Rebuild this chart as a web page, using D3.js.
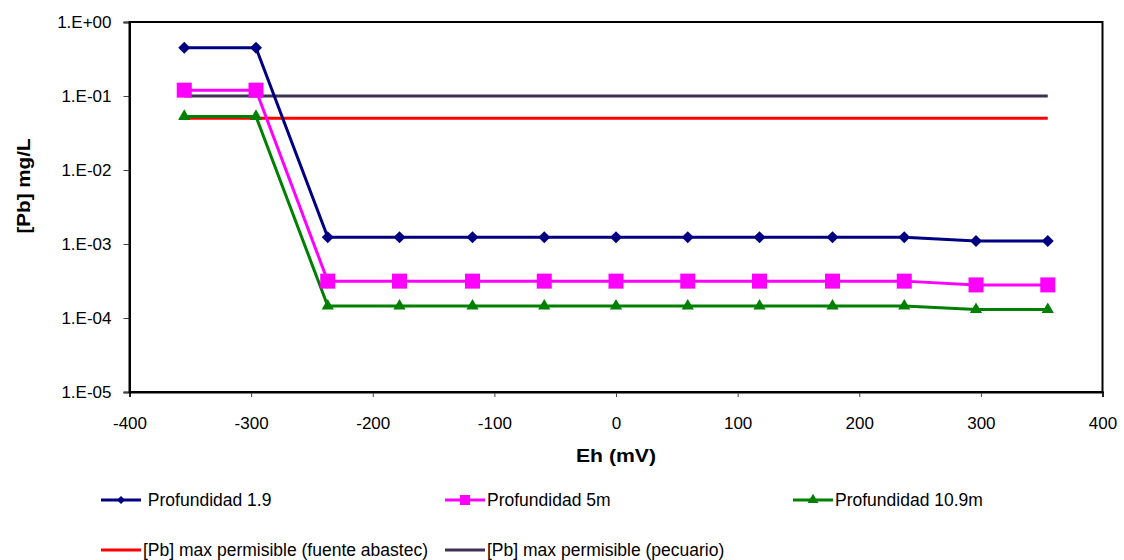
<!DOCTYPE html>
<html>
<head>
<meta charset="utf-8">
<script src="https://cdn.jsdelivr.net/npm/d3@7"></script>
<style>
  body { margin: 0; background: #fff; }
  text { font-family: "Liberation Sans", Arial, sans-serif; }
</style>
</head>
<body>
<div id="graf"></div>
<script>
// Datos
eh = [-355, -296, -237, -178, -118, -59, 0, 59, 118, 178, 237, 296, 355]
prof19  = [0.45, 0.45, 0.00123, 0.00123, 0.00123, 0.00123, 0.00123, 0.00123, 0.00123, 0.00123, 0.00123, 0.0011, 0.0011]
prof5   = [0.12, 0.12, 0.000315, 0.000315, 0.000315, 0.000315, 0.000315, 0.000315, 0.000315, 0.000315, 0.000315, 0.00028, 0.00028]
prof109 = [0.053, 0.053, 0.000145, 0.000145, 0.000145, 0.000145, 0.000145, 0.000145, 0.000145, 0.000145, 0.000145, 0.00013, 0.00013]
maxAbastec = [0.05, 0.05]
maxPecuario = [0.1, 0.1]
limiteEh = [-355, 355]

xTicks = [-400, -300, -200, -100, 0, 100, 200, 300, 400]
yTicks = [1, 1e-1, 1e-2, 1e-3, 1e-4, 1e-5]
yTickLabels = ['1.E+00', '1.E-01', '1.E-02', '1.E-03', '1.E-04', '1.E-05']

series = [
  { nombre: ' Profundidad 1.9', x: eh, v: prof19, color: '#000080', marca: 'diamante' },
  { nombre: 'Profundidad 5m', x: eh, v: prof5, color: '#FF00FF', marca: 'cuadro' },
  { nombre: 'Profundidad 10.9m', x: eh, v: prof109, color: '#008000', marca: 'triangulo' },
  { nombre: '[Pb] max permisible (fuente abastec)', x: limiteEh, v: maxAbastec, color: '#FF0000', marca: null },
  { nombre: '[Pb] max permisible (pecuario)', x: limiteEh, v: maxPecuario, color: '#3F3151', marca: null }
]

ancho_total = 1124
alto_total = 560
margins = { top: 22, left: 129.5, right: 21.5, bottom: 168 }
ancho = ancho_total - margins.left - margins.right
alto = alto_total - margins.top - margins.bottom

svg = d3.select('#graf').append('svg')
  .attr('width', ancho_total)
  .attr('height', alto_total)

g = svg.append('g').attr('transform', `translate(${margins.left}, ${margins.top})`)

x = d3.scaleLinear().domain([-400, 400]).range([0, ancho])
y = d3.scaleLog().domain([1e-5, 1]).range([alto, 0])

// Ejes
xAxis = g.append('g')
  .attr('transform', `translate(0, ${alto})`)
  .call(d3.axisBottom(x).tickValues(xTicks).tickSize(5).tickPadding(20).tickFormat(d => String(d)))
xAxis.select('.domain').attr('stroke-width', 2)
xAxis.selectAll('.tick line').attr('stroke', '#444')
xAxis.selectAll('text').attr('font-size', '17px').attr('fill', '#000')
  .attr('font-family', '"Liberation Sans", Arial, sans-serif')

yAxis = g.append('g')
  .call(d3.axisLeft(y).tickValues(yTicks).tickSize(6).tickPadding(12).tickFormat((d, i) => yTickLabels[i]))
yAxis.select('.domain').attr('stroke-width', 2)
yAxis.selectAll('.tick line').attr('stroke', '#444')
yAxis.selectAll('text').attr('font-size', '17px').attr('fill', '#000')
  .attr('font-family', '"Liberation Sans", Arial, sans-serif')

// Marco del área de trazado
g.append('rect')
  .attr('x', 0).attr('y', 0)
  .attr('width', ancho).attr('height', alto)
  .attr('fill', 'none').attr('stroke', '#000').attr('stroke-width', 2)

// Líneas
linea = d3.line().x(d => x(d[0])).y(d => y(d[1]))

// marcas del gráfico y de la leyenda (rombo = cuadro girado 45°)
simbolo = {
  diamante: d3.symbol().type(d3.symbolSquare).size(72),
  cuadro: d3.symbol().type(d3.symbolSquare).size(225),
  triangulo: d3.symbol().type(d3.symbolTriangle).size(65)
}
simboloLeyenda = {
  diamante: d3.symbol().type(d3.symbolSquare).size(32),
  cuadro: d3.symbol().type(d3.symbolSquare).size(100),
  triangulo: d3.symbol().type(d3.symbolTriangle).size(50)
}
giro = m => m === 'diamante' ? ' rotate(45)' : ''

series.slice().reverse().forEach(s => {
  puntos = s.x.map((xv, i) => [xv, s.v[i]])
  g.append('path')
    .datum(puntos)
    .attr('d', linea)
    .attr('fill', 'none')
    .attr('stroke', s.color)
    .attr('stroke-width', 3)
})

series.forEach(s => {
  if (!s.marca) return
  puntos = s.x.map((xv, i) => [xv, s.v[i]])
  g.selectAll(null)
    .data(puntos)
    .enter()
    .append('path')
    .attr('d', simbolo[s.marca])
    .attr('transform', d => `translate(${x(d[0])}, ${y(d[1])})` + giro(s.marca))
    .attr('fill', s.color)
})

// Títulos de ejes
svg.append('text')
  .attr('x', margins.left + ancho / 2)
  .attr('y', 462)
  .attr('text-anchor', 'middle')
  .attr('font-size', '19px')
  .attr('font-weight', 'bold')
  .attr('textLength', 80)
  .attr('lengthAdjust', 'spacingAndGlyphs')
  .text('Eh (mV)')

svg.append('text')
  .attr('transform', 'translate(30, 186) rotate(-90)')
  .attr('text-anchor', 'middle')
  .attr('font-size', '19px')
  .attr('font-weight', 'bold')
  .attr('textLength', 95)
  .attr('lengthAdjust', 'spacingAndGlyphs')
  .text('[Pb] mg/L')

// Leyenda
posLeyenda = [[101, 500], [445, 500], [793, 500], [101, 550], [445, 550]]
series.forEach((s, i) => {
  ly = svg.append('g').attr('transform', `translate(${posLeyenda[i][0]}, ${posLeyenda[i][1]})`)
  ly.append('line').attr('x1', 0).attr('x2', 40).attr('y1', 0).attr('y2', 0)
    .attr('stroke', s.color).attr('stroke-width', 3)
  if (s.marca) {
    ly.append('path').attr('d', simboloLeyenda[s.marca])
      .attr('transform', 'translate(20, 0)' + giro(s.marca)).attr('fill', s.color)
  }
  ly.append('text')
    .attr('x', 42)
    .attr('y', 6)
    .attr('font-size', '17.5px')
    .style('white-space', 'pre')
    .text(s.nombre)
})
</script>
</body>
</html>
